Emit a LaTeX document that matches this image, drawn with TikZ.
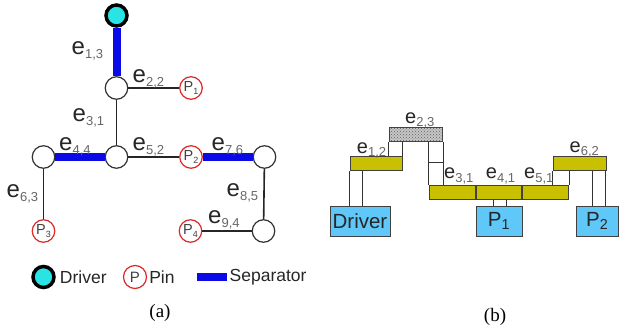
\documentclass[tikz,border=0pt]{standalone}
\usepackage{fontspec}
\setmainfont{Liberation Sans}
\newfontfamily\capfont{Liberation Serif}
\usetikzlibrary{positioning, patterns}

\definecolor{drvcyan}{RGB}{40,228,228}
\definecolor{sepblue}{RGB}{10,10,230}
\definecolor{pinred}{RGB}{222,40,40}
\definecolor{wireyel}{RGB}{200,192,0}
\definecolor{boxblue}{RGB}{95,200,248}

% subscript of an edge label
\newcommand{\esub}[1]{\raisebox{-0.3ex}{\fontsize{13}{13}\selectfont\color{black!60}#1}}
\newcommand{\psub}[1]{\raisebox{-0.35ex}{\fontsize{9}{9}\selectfont #1}}

\begin{document}
\begin{tikzpicture}[
  x=1pt, y=-1pt,
  vtx/.style={circle, draw=black!80, fill=white, line width=1.2pt,
    minimum size=22.5pt, inner sep=0pt},
  drvdot/.style={circle, draw=black, fill=drvcyan, line width=3.5pt,
    minimum size=21pt, inner sep=0pt},
  pin/.style={circle, draw=pinred, fill=white, line width=1.2pt,
    minimum size=22.5pt, inner sep=0pt,
    font=\fontsize{14.5}{14.5}\selectfont, text=black!75},
  wire/.style={line width=1.6pt, draw=black!85},
  sep/.style={line width=8pt, draw=sepblue},
  lbl/.style={anchor=base west, inner sep=0pt, text=black!85,
    font=\fontsize{24}{24}\selectfont},
  blbl/.style={lbl, font=\fontsize{20}{20}\selectfont},
  seg/.style={draw=black!75, fill=wireyel, line width=0.9pt,
    minimum height=14.4pt, inner sep=0pt},
  hatch/.style={seg, fill=gray!45,
    postaction={pattern=crosshatch dots, pattern color=gray!75!black}},
  load/.style={draw=black!75, fill=boxblue, line width=0.9pt,
    minimum height=29.4pt, inner sep=0pt, text=black!85,
    font=\fontsize{20.5}{20.5}\selectfont},
  stub/.style={draw=black!80, line width=0.9pt},
  key/.style={inner sep=0pt, text=black!85, font=\fontsize{17.5}{17.5}\selectfont},
  captxt/.style={font=\capfont\fontsize{19}{19}\selectfont}
]
\useasboundingbox (0,0) rectangle (619,334);

% ---- (a) routing tree
\node[drvdot] (drv) at (116.5,15.5) {};
\node[vtx] (na) at (116.5,88) {};
\node[pin] (pa) at (191,88) {P\psub{1}};
\node[vtx] (nb) at (116.5,157) {};
\node[vtx] (nc) at (43.5,157) {};
\node[pin] (pb) at (191,157) {P\psub{2}};
\node[vtx] (nd) at (264.5,157) {};
\node[pin] (pc) at (43.5,231) {P\psub{3}};
\node[vtx] (ne) at (263.5,231) {};
\node[pin] (pd) at (190.5,231) {P\psub{4}};

\draw[sep] (drv) -- (na);
\draw[wire] (na) -- (pa);
\draw[wire] (na) -- (nb);
\draw[sep] (nc) -- (nb);
\draw[wire] (nb) -- (pb);
\draw[sep] (pb) -- (nd);
\draw[wire] (nc) -- (pc);
\draw[wire] (nd) -- (ne);
\draw[wire] (pd) -- (ne);

\node[lbl] (l13) at (71.5,55) {e\esub{1,3}};
\node[lbl] (l22) at (132.5,83) {e\esub{2,2}};
\node[lbl] (l31) at (72.5,121.5) {e\esub{3,1}};
\node[lbl] (l44) at (59,150.5) {e\esub{4,4}};
\node[lbl] (l52) at (132.5,150.5) {e\esub{5,2}};
\node[lbl] (l76) at (211.5,150.5) {e\esub{7,6}};
\node[lbl] (l63) at (6.5,198) {e\esub{6,3}};
\node[lbl] (l85) at (226.5,196.5) {e\esub{8,5}};
\node[lbl] (l94) at (208,224) {e\esub{9,4}};

% legend
\node[drvdot] (kdrv) at (43.5,277) {};
\node[key, right=4pt of kdrv] (tdrv) {Driver};
\node[pin, minimum size=23pt, font=\fontsize{15}{15}\selectfont] (kpin) at (135,277) {P};
\node[key, right=2pt of kpin] (tpin) {Pin};
\node[fill=sepblue, minimum width=30.5pt, minimum height=8pt, inner sep=0pt] (ksep) at (212,277) {};
\node[key, right=2pt of ksep] (tsep) {Separator};

\node[captxt] (capa) at (160,313) {(a)};

% ---- (b) wire segments
\node[hatch, minimum width=53.4pt] (e23) at (416,134.5) {};
\node[seg, minimum width=52.3pt] (e12) at (376.2,163.7) {};
\node[seg, minimum width=45.7pt] (e31) at (452.2,192.2) {};
\node[seg, minimum width=45.7pt, right=0pt of e31] (e41) {};
\node[seg, minimum width=46pt, right=0pt of e41] (e51) {};
\node[seg, minimum width=52.7pt] (e62) at (579.7,163.4) {};

\node[load, minimum width=60pt] (bdrv) at (360,221.3) {Driver};
\node[load, minimum width=46pt] (bp1) at (499,221.3) {P\textsubscript{1}};
\node[load, minimum width=42.5pt] (bp2) at (597.2,221.3) {P\textsubscript{2}};

\draw[stub] (e12.south west) -- (e12.south west |- bdrv.north);
\draw[stub] ([xshift=12.7pt]e12.south west) -- ([xshift=12.7pt]e12.south west |- bdrv.north);
\draw[stub] (e23.south west) -- (e23.south west |- e12.north);
\draw[stub] (e12.north east) -- (e12.north east |- e23.south);
\draw[stub] (e31.north west) -- (e31.north west |- e23.south);
\draw[stub] (e23.south east) -- (e23.south east |- e31.north);
\draw[stub] (e31.north west |- 0,162.7) -- (e23.south east |- 0,162.7);
\draw[stub] ([xshift=-5pt]e41.south) -- ([xshift=-5pt]e41.south |- bp1.north);
\draw[stub] ([xshift=7.5pt]e41.south) -- ([xshift=7.5pt]e41.south |- bp1.north);
\draw[stub] (e62.south west) -- (e62.south west |- e51.north);
\draw[stub] (e51.north east) -- (e51.north east |- e62.south);
\draw[stub] ([xshift=13pt]e62.south) -- ([xshift=13pt]e62.south |- bp2.north);
\draw[stub] ([xshift=25.3pt]e62.south) -- ([xshift=25.3pt]e62.south |- bp2.north);

\node[blbl] (l23) at (405,123.3) {e\esub{2,3}};
\node[blbl] (l12) at (356.7,153.3) {e\esub{1,2}};
\node[blbl] (l31b) at (444,179) {e\esub{3,1}};
\node[blbl] (l41) at (485.7,179) {e\esub{4,1}};
\node[blbl] (l51) at (524,179) {e\esub{5,1}};
\node[blbl] (l62) at (569.5,152.7) {e\esub{6,2}};

\node[captxt] (capb) at (495,317) {(b)};
\end{tikzpicture}
\end{document}
